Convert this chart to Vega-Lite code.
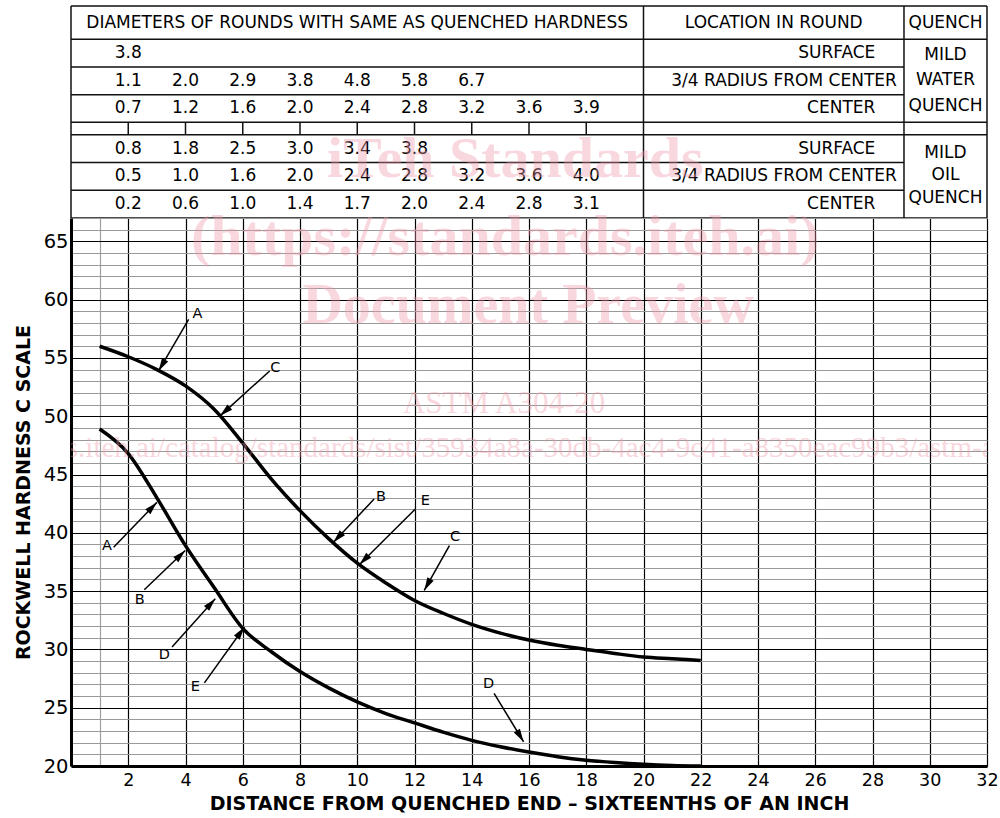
{
  "$schema": "https://vega.github.io/schema/vega-lite/v6.json",
  "background": "white",
  "padding": {"left": 14, "top": 5, "right": 2, "bottom": 2},
  "spacing": 0,
  "bounds": "flush",
  "config": {"view": {"stroke": null}, "font": "DejaVu Sans", "concat": {"spacing": 0}},
  "datasets": {
    "table_lines": [
      {"x": 0, "y": -0.5, "x2": 32, "y2": -0.5},
      {"x": 0, "y": 0.5, "x2": 32, "y2": 0.5},
      {"x": 0, "y": 1.5, "x2": 29.1, "y2": 1.5},
      {"x": 0, "y": 2.5, "x2": 29.1, "y2": 2.5},
      {"x": 0, "y": 3.5, "x2": 32, "y2": 3.5},
      {"x": 0, "y": 4.5, "x2": 32, "y2": 4.5},
      {"x": 0, "y": 5.5, "x2": 29.1, "y2": 5.5},
      {"x": 0, "y": 6.5, "x2": 29.1, "y2": 6.5},
      {"x": 0, "y": 7.5, "x2": 32, "y2": 7.5},
      {"x": 0, "y": -0.5, "x2": 0, "y2": 7.5},
      {"x": 20, "y": -0.5, "x2": 20, "y2": 7.5},
      {"x": 29.1, "y": -0.5, "x2": 29.1, "y2": 7.5},
      {"x": 32, "y": -0.5, "x2": 32, "y2": 7.5},
      {"x": 2, "y": 3.5, "x2": 2, "y2": 4.5},
      {"x": 4, "y": 3.5, "x2": 4, "y2": 4.5},
      {"x": 6, "y": 3.5, "x2": 6, "y2": 4.5},
      {"x": 8, "y": 3.5, "x2": 8, "y2": 4.5},
      {"x": 10, "y": 3.5, "x2": 10, "y2": 4.5},
      {"x": 12, "y": 3.5, "x2": 12, "y2": 4.5},
      {"x": 14, "y": 3.5, "x2": 14, "y2": 4.5},
      {"x": 16, "y": 3.5, "x2": 16, "y2": 4.5},
      {"x": 18, "y": 3.5, "x2": 18, "y2": 4.5}
    ],
    "diameters": [
      {"quench": "Mild water", "location": "Surface", "row": 1, "distance": 2, "diameter": "3.8"},
      {"quench": "Mild water", "location": "3/4 radius", "row": 2, "distance": 2, "diameter": "1.1"},
      {"quench": "Mild water", "location": "3/4 radius", "row": 2, "distance": 4, "diameter": "2.0"},
      {"quench": "Mild water", "location": "3/4 radius", "row": 2, "distance": 6, "diameter": "2.9"},
      {"quench": "Mild water", "location": "3/4 radius", "row": 2, "distance": 8, "diameter": "3.8"},
      {"quench": "Mild water", "location": "3/4 radius", "row": 2, "distance": 10, "diameter": "4.8"},
      {"quench": "Mild water", "location": "3/4 radius", "row": 2, "distance": 12, "diameter": "5.8"},
      {"quench": "Mild water", "location": "3/4 radius", "row": 2, "distance": 14, "diameter": "6.7"},
      {"quench": "Mild water", "location": "Center", "row": 3, "distance": 2, "diameter": "0.7"},
      {"quench": "Mild water", "location": "Center", "row": 3, "distance": 4, "diameter": "1.2"},
      {"quench": "Mild water", "location": "Center", "row": 3, "distance": 6, "diameter": "1.6"},
      {"quench": "Mild water", "location": "Center", "row": 3, "distance": 8, "diameter": "2.0"},
      {"quench": "Mild water", "location": "Center", "row": 3, "distance": 10, "diameter": "2.4"},
      {"quench": "Mild water", "location": "Center", "row": 3, "distance": 12, "diameter": "2.8"},
      {"quench": "Mild water", "location": "Center", "row": 3, "distance": 14, "diameter": "3.2"},
      {"quench": "Mild water", "location": "Center", "row": 3, "distance": 16, "diameter": "3.6"},
      {"quench": "Mild water", "location": "Center", "row": 3, "distance": 18, "diameter": "3.9"},
      {"quench": "Mild oil", "location": "Surface", "row": 5, "distance": 2, "diameter": "0.8"},
      {"quench": "Mild oil", "location": "Surface", "row": 5, "distance": 4, "diameter": "1.8"},
      {"quench": "Mild oil", "location": "Surface", "row": 5, "distance": 6, "diameter": "2.5"},
      {"quench": "Mild oil", "location": "Surface", "row": 5, "distance": 8, "diameter": "3.0"},
      {"quench": "Mild oil", "location": "Surface", "row": 5, "distance": 10, "diameter": "3.4"},
      {"quench": "Mild oil", "location": "Surface", "row": 5, "distance": 12, "diameter": "3.8"},
      {"quench": "Mild oil", "location": "3/4 radius", "row": 6, "distance": 2, "diameter": "0.5"},
      {"quench": "Mild oil", "location": "3/4 radius", "row": 6, "distance": 4, "diameter": "1.0"},
      {"quench": "Mild oil", "location": "3/4 radius", "row": 6, "distance": 6, "diameter": "1.6"},
      {"quench": "Mild oil", "location": "3/4 radius", "row": 6, "distance": 8, "diameter": "2.0"},
      {"quench": "Mild oil", "location": "3/4 radius", "row": 6, "distance": 10, "diameter": "2.4"},
      {"quench": "Mild oil", "location": "3/4 radius", "row": 6, "distance": 12, "diameter": "2.8"},
      {"quench": "Mild oil", "location": "3/4 radius", "row": 6, "distance": 14, "diameter": "3.2"},
      {"quench": "Mild oil", "location": "3/4 radius", "row": 6, "distance": 16, "diameter": "3.6"},
      {"quench": "Mild oil", "location": "3/4 radius", "row": 6, "distance": 18, "diameter": "4.0"},
      {"quench": "Mild oil", "location": "Center", "row": 7, "distance": 2, "diameter": "0.2"},
      {"quench": "Mild oil", "location": "Center", "row": 7, "distance": 4, "diameter": "0.6"},
      {"quench": "Mild oil", "location": "Center", "row": 7, "distance": 6, "diameter": "1.0"},
      {"quench": "Mild oil", "location": "Center", "row": 7, "distance": 8, "diameter": "1.4"},
      {"quench": "Mild oil", "location": "Center", "row": 7, "distance": 10, "diameter": "1.7"},
      {"quench": "Mild oil", "location": "Center", "row": 7, "distance": 12, "diameter": "2.0"},
      {"quench": "Mild oil", "location": "Center", "row": 7, "distance": 14, "diameter": "2.4"},
      {"quench": "Mild oil", "location": "Center", "row": 7, "distance": 16, "diameter": "2.8"},
      {"quench": "Mild oil", "location": "Center", "row": 7, "distance": 18, "diameter": "3.1"}
    ],
    "locations": [
      {"location": "SURFACE", "row": 1},
      {"location": "3/4 RADIUS FROM CENTER", "row": 2},
      {"location": "CENTER", "row": 3},
      {"location": "SURFACE", "row": 5},
      {"location": "3/4 RADIUS FROM CENTER", "row": 6},
      {"location": "CENTER", "row": 7}
    ],
    "headers": [
      {"header": "DIAMETERS OF ROUNDS WITH SAME AS QUENCHED HARDNESS"},
      {"header": "LOCATION IN ROUND"},
      {"header": "QUENCH"}
    ],
    "curves": [
      {"curve": "upper", "distance": 1, "hardness": 56.0},
      {"curve": "upper", "distance": 2, "hardness": 55.1},
      {"curve": "upper", "distance": 3, "hardness": 54.0},
      {"curve": "upper", "distance": 4, "hardness": 52.6},
      {"curve": "upper", "distance": 5, "hardness": 50.6},
      {"curve": "upper", "distance": 6, "hardness": 47.7},
      {"curve": "upper", "distance": 7, "hardness": 44.6},
      {"curve": "upper", "distance": 8, "hardness": 41.9},
      {"curve": "upper", "distance": 9, "hardness": 39.5},
      {"curve": "upper", "distance": 10, "hardness": 37.4},
      {"curve": "upper", "distance": 11, "hardness": 35.7},
      {"curve": "upper", "distance": 12, "hardness": 34.2},
      {"curve": "upper", "distance": 13, "hardness": 33.1},
      {"curve": "upper", "distance": 14, "hardness": 32.15},
      {"curve": "upper", "distance": 15, "hardness": 31.4},
      {"curve": "upper", "distance": 16, "hardness": 30.8},
      {"curve": "upper", "distance": 17, "hardness": 30.35},
      {"curve": "upper", "distance": 18, "hardness": 30.0},
      {"curve": "upper", "distance": 19, "hardness": 29.65},
      {"curve": "upper", "distance": 20, "hardness": 29.35},
      {"curve": "upper", "distance": 21, "hardness": 29.2},
      {"curve": "upper", "distance": 22, "hardness": 29.05},
      {"curve": "lower", "distance": 1, "hardness": 48.9},
      {"curve": "lower", "distance": 2, "hardness": 46.8},
      {"curve": "lower", "distance": 3, "hardness": 43.0},
      {"curve": "lower", "distance": 4, "hardness": 38.9},
      {"curve": "lower", "distance": 5, "hardness": 35.3},
      {"curve": "lower", "distance": 6, "hardness": 31.8},
      {"curve": "lower", "distance": 7, "hardness": 29.8},
      {"curve": "lower", "distance": 8, "hardness": 28.1},
      {"curve": "lower", "distance": 9, "hardness": 26.7},
      {"curve": "lower", "distance": 10, "hardness": 25.5},
      {"curve": "lower", "distance": 11, "hardness": 24.5},
      {"curve": "lower", "distance": 12, "hardness": 23.7},
      {"curve": "lower", "distance": 13, "hardness": 22.9},
      {"curve": "lower", "distance": 14, "hardness": 22.2},
      {"curve": "lower", "distance": 15, "hardness": 21.65},
      {"curve": "lower", "distance": 16, "hardness": 21.2},
      {"curve": "lower", "distance": 17, "hardness": 20.8},
      {"curve": "lower", "distance": 18, "hardness": 20.5},
      {"curve": "lower", "distance": 19, "hardness": 20.3},
      {"curve": "lower", "distance": 20, "hardness": 20.15},
      {"curve": "lower", "distance": 21, "hardness": 20.05},
      {"curve": "lower", "distance": 22, "hardness": 20.0}
    ],
    "arrows": [
      {"label": "A", "tail_x": 4.11, "tail_y": 58.3, "tip_x": 3.06, "tip_y": 53.88, "label_x": 4.42, "label_y": 58.73, "angle": 210},
      {"label": "C", "tail_x": 6.94, "tail_y": 53.88, "tip_x": 5.21, "tip_y": 50.03, "label_x": 7.14, "label_y": 54.13, "angle": 228},
      {"label": "B", "tail_x": 10.59, "tail_y": 42.9, "tip_x": 9.17, "tip_y": 39.19, "label_x": 10.83, "label_y": 43.04, "angle": 223},
      {"label": "E", "tail_x": 12.03, "tail_y": 42.04, "tip_x": 10.08, "tip_y": 37.28, "label_x": 12.38, "label_y": 42.69, "angle": 225},
      {"label": "C", "tail_x": 13.22, "tail_y": 38.91, "tip_x": 12.34, "tip_y": 35.06, "label_x": 13.42, "label_y": 39.62, "angle": 209},
      {"label": "A", "tail_x": 1.49, "tail_y": 38.76, "tip_x": 3.0, "tip_y": 42.61, "label_x": 1.26, "label_y": 38.9, "angle": 44},
      {"label": "B", "tail_x": 2.56, "tail_y": 35.12, "tip_x": 3.99, "tip_y": 38.48, "label_x": 2.4, "label_y": 34.26, "angle": 46},
      {"label": "D", "tail_x": 3.53, "tail_y": 30.21, "tip_x": 5.04, "tip_y": 34.35, "label_x": 3.26, "label_y": 29.5, "angle": 42},
      {"label": "E", "tail_x": 4.66, "tail_y": 27.13, "tip_x": 6.06, "tip_y": 31.92, "label_x": 4.34, "label_y": 26.78, "angle": 36},
      {"label": "D", "tail_x": 14.78, "tail_y": 26.22, "tip_x": 15.81, "tip_y": 22.08, "label_x": 14.59, "label_y": 27.07, "angle": 149}
    ],
    "watermark": [
      {"text": "watermark"}
    ]
  },
  "vconcat": [
    {
      "width": 916,
      "height": 212,
      "layer": [
        {
          "data": {"name": "table_lines"},
          "mark": {"type": "rule", "color": "#111", "strokeWidth": 1.5},
          "encoding": {
            "x": {"field": "x", "type": "quantitative", "scale": {"domain": [0, 32], "nice": false, "zero": false}, "axis": null},
            "x2": {"field": "x2"},
            "y": {"field": "y", "type": "quantitative", "scale": {"domain": [-0.5, 0.5, 3.5, 4.5, 7.5], "range": [0, 33.3, 116.3, 128.8, 212], "nice": false, "zero": false}, "axis": null},
            "y2": {"field": "y2"}
          }
        },
        {
          "data": {"name": "diameters"},
          "mark": {"type": "text", "font": "DejaVu Sans", "fontSize": 17, "color": "#000", "align": "center", "baseline": "middle"},
          "encoding": {
            "x": {"field": "distance", "type": "quantitative", "scale": {"domain": [0, 32], "nice": false, "zero": false}, "axis": null},
            "y": {"field": "row", "type": "quantitative", "scale": {"domain": [-0.5, 0.5, 3.5, 4.5, 7.5], "range": [0, 33.3, 116.3, 128.8, 212], "nice": false, "zero": false}, "axis": null},
            "text": {"field": "diameter"}
          }
        },
        {
          "data": {"name": "locations"},
          "transform": [{"filter": "datum.location !== '3/4 RADIUS FROM CENTER'"}],
          "mark": {"type": "text", "font": "DejaVu Sans", "fontSize": 17, "color": "#000", "align": "right", "baseline": "middle"},
          "encoding": {
            "x": {"datum": 28.1, "type": "quantitative", "scale": {"domain": [0, 32], "nice": false, "zero": false}, "axis": null},
            "y": {"field": "row", "type": "quantitative", "scale": {"domain": [-0.5, 0.5, 3.5, 4.5, 7.5], "range": [0, 33.3, 116.3, 128.8, 212], "nice": false, "zero": false}, "axis": null},
            "text": {"field": "location"}
          }
        },
        {
          "data": {"name": "locations"},
          "transform": [{"filter": "datum.location === '3/4 RADIUS FROM CENTER'"}],
          "mark": {"type": "text", "font": "DejaVu Sans", "fontSize": 17, "color": "#000", "align": "right", "baseline": "middle"},
          "encoding": {
            "x": {"datum": 28.85, "type": "quantitative", "scale": {"domain": [0, 32], "nice": false, "zero": false}, "axis": null},
            "y": {"field": "row", "type": "quantitative", "scale": {"domain": [-0.5, 0.5, 3.5, 4.5, 7.5], "range": [0, 33.3, 116.3, 128.8, 212], "nice": false, "zero": false}, "axis": null},
            "text": {"field": "location"}
          }
        },
        {
          "data": {"values": [{"quench": "MILD WATER QUENCH"}]},
          "mark": {"type": "text", "font": "DejaVu Sans", "fontSize": 17, "color": "#000", "align": "center", "baseline": "middle", "lineBreak": " ", "lineHeight": 25.5},
          "encoding": {
            "x": {"datum": 30.55, "type": "quantitative", "scale": {"domain": [0, 32], "nice": false, "zero": false}, "axis": null},
            "y": {"datum": 1.05, "type": "quantitative", "scale": {"domain": [-0.5, 0.5, 3.5, 4.5, 7.5], "range": [0, 33.3, 116.3, 128.8, 212], "nice": false, "zero": false}, "axis": null},
            "text": {"field": "quench"}
          }
        },
        {
          "data": {"values": [{"quench": "MILD OIL QUENCH"}]},
          "mark": {"type": "text", "font": "DejaVu Sans", "fontSize": 17, "color": "#000", "align": "center", "baseline": "middle", "lineBreak": " ", "lineHeight": 22.5},
          "encoding": {
            "x": {"datum": 30.55, "type": "quantitative", "scale": {"domain": [0, 32], "nice": false, "zero": false}, "axis": null},
            "y": {"datum": 5.15, "type": "quantitative", "scale": {"domain": [-0.5, 0.5, 3.5, 4.5, 7.5], "range": [0, 33.3, 116.3, 128.8, 212], "nice": false, "zero": false}, "axis": null},
            "text": {"field": "quench"}
          }
        },
        {
          "data": {"name": "headers"},
          "transform": [{"filter": "datum.header === 'DIAMETERS OF ROUNDS WITH SAME AS QUENCHED HARDNESS'"}],
          "mark": {"type": "text", "font": "DejaVu Sans", "fontSize": 17, "color": "#000", "align": "center", "baseline": "middle"},
          "encoding": {
            "x": {"datum": 10, "type": "quantitative", "scale": {"domain": [0, 32], "nice": false, "zero": false}, "axis": null},
            "y": {"datum": 0, "type": "quantitative", "scale": {"domain": [-0.5, 0.5, 3.5, 4.5, 7.5], "range": [0, 33.3, 116.3, 128.8, 212], "nice": false, "zero": false}, "axis": null},
            "text": {"field": "header"}
          }
        },
        {
          "data": {"name": "headers"},
          "transform": [{"filter": "datum.header === 'LOCATION IN ROUND'"}],
          "mark": {"type": "text", "font": "DejaVu Sans", "fontSize": 17, "color": "#000", "align": "center", "baseline": "middle"},
          "encoding": {
            "x": {"datum": 24.55, "type": "quantitative", "scale": {"domain": [0, 32], "nice": false, "zero": false}, "axis": null},
            "y": {"datum": 0, "type": "quantitative", "scale": {"domain": [-0.5, 0.5, 3.5, 4.5, 7.5], "range": [0, 33.3, 116.3, 128.8, 212], "nice": false, "zero": false}, "axis": null},
            "text": {"field": "header"}
          }
        },
        {
          "data": {"name": "headers"},
          "transform": [{"filter": "datum.header === 'QUENCH'"}],
          "mark": {"type": "text", "font": "DejaVu Sans", "fontSize": 17, "color": "#000", "align": "center", "baseline": "middle"},
          "encoding": {
            "x": {"datum": 30.55, "type": "quantitative", "scale": {"domain": [0, 32], "nice": false, "zero": false}, "axis": null},
            "y": {"datum": 0, "type": "quantitative", "scale": {"domain": [-0.5, 0.5, 3.5, 4.5, 7.5], "range": [0, 33.3, 116.3, 128.8, 212], "nice": false, "zero": false}, "axis": null},
            "text": {"field": "header"}
          }
        },
        {
          "data": {"name": "watermark"},
          "mark": {"type": "text", "text": "iTeh Standards", "font": "Liberation Serif", "fontWeight": "bold", "fontSize": 58, "color": "#ee9aab", "opacity": 0.38, "align": "center", "baseline": "middle"},
          "encoding": {
            "x": {"datum": 15.52, "type": "quantitative", "scale": {"domain": [0, 32], "nice": false, "zero": false}, "axis": null},
            "y": {"datum": 5.41, "type": "quantitative", "scale": {"domain": [-0.5, 0.5, 3.5, 4.5, 7.5], "range": [0, 33.3, 116.3, 128.8, 212], "nice": false, "zero": false}, "axis": null}
          }
        }
      ]
    },
    {
      "width": 916,
      "height": 548,
      "layer": [
        {
          "data": {"name": "curves"},
          "mark": {"type": "line", "interpolate": "monotone", "color": "#000", "strokeWidth": 3.5},
          "encoding": {
            "x": {
              "field": "distance", "type": "quantitative",
              "scale": {"domain": [0, 32], "nice": false, "zero": false},
              "axis": {
                "values": [1, 2, 4, 6, 8, 10, 12, 14, 16, 18, 20, 22, 24, 26, 28, 30, 32],
                "tickCount": 100,
                "format": "d",
                "labelExpr": "datum.value % 2 === 0 ? datum.label : ''",
                "grid": true,
                "gridColor": {"condition": {"test": "datum.value === 1", "value": "#a0a0a0"}, "value": "#000"},
                "gridWidth": 1.2,
                "domainColor": "#000", "domainWidth": 3,
                "ticks": false, "tickSize": 0,
                "labelFont": "DejaVu Sans", "labelFontSize": 17.5, "labelColor": "#000", "labelPadding": 5,
                "labelOverlap": false, "labelFlush": false, "labelBound": false,
                "title": "DISTANCE FROM QUENCHED END – SIXTEENTHS OF AN INCH",
                "titleFont": "DejaVu Sans", "titleFontWeight": "bold", "titleFontSize": 19, "titleColor": "#000", "titlePadding": 6
              }
            },
            "y": {
              "field": "hardness", "type": "quantitative",
              "scale": {"domain": [20, 67], "nice": false, "zero": false},
              "axis": {
                "values": [20, 21, 22, 23, 24, 25, 26, 27, 28, 29, 30, 31, 32, 33, 34, 35, 36, 37, 38, 39, 40, 41, 42, 43, 44, 45, 46, 47, 48, 49, 50, 51, 52, 53, 54, 55, 56, 57, 58, 59, 60, 61, 62, 63, 64, 65, 66, 67],
                "tickCount": 100,
                "format": "d",
                "labelExpr": "datum.value % 5 === 0 ? datum.label : ''",
                "grid": true,
                "gridColor": {"condition": {"test": "datum.value % 5 === 0", "value": "#000"}, "value": "#999"},
                "gridWidth": 1.2,
                "domainColor": "#000", "domainWidth": 3,
                "ticks": false, "tickSize": 0,
                "labelFont": "DejaVu Sans", "labelFontSize": 19.5, "labelColor": "#000", "labelPadding": 3,
                "labelOverlap": false, "labelFlush": false, "labelBound": false,
                "title": "ROCKWELL HARDNESS C SCALE",
                "titleFont": "DejaVu Sans", "titleFontWeight": "bold", "titleFontSize": 19, "titleColor": "#000", "titlePadding": 10
              }
            },
            "detail": {"field": "curve"}
          }
        },
        {
          "data": {"name": "arrows"},
          "mark": {"type": "rule", "color": "#000", "strokeWidth": 1.5},
          "encoding": {
            "x": {"field": "tail_x", "type": "quantitative", "scale": {"domain": [0, 32], "nice": false, "zero": false}},
            "y": {"field": "tail_y", "type": "quantitative", "scale": {"domain": [20, 67], "nice": false, "zero": false}},
            "x2": {"field": "tip_x"},
            "y2": {"field": "tip_y"}
          }
        },
        {
          "data": {"name": "arrows"},
          "mark": {"type": "point", "shape": "M0,0L0.55,2L-0.55,2Z", "filled": true, "size": 169, "color": "#000", "opacity": 1, "strokeWidth": 0},
          "encoding": {
            "x": {"field": "tip_x", "type": "quantitative", "scale": {"domain": [0, 32], "nice": false, "zero": false}},
            "y": {"field": "tip_y", "type": "quantitative", "scale": {"domain": [20, 67], "nice": false, "zero": false}},
            "angle": {"field": "angle", "type": "quantitative", "scale": null}
          }
        },
        {
          "data": {"name": "arrows"},
          "mark": {"type": "text", "font": "DejaVu Sans", "fontSize": 14.5, "color": "#000", "align": "center", "baseline": "middle"},
          "encoding": {
            "x": {"field": "label_x", "type": "quantitative", "scale": {"domain": [0, 32], "nice": false, "zero": false}},
            "y": {"field": "label_y", "type": "quantitative", "scale": {"domain": [20, 67], "nice": false, "zero": false}},
            "text": {"field": "label"}
          }
        },
        {
          "data": {"name": "watermark"},
          "mark": {"type": "text", "text": "(https://standards.iteh.ai)", "font": "Liberation Serif", "fontWeight": "bold", "fontSize": 58, "color": "#ee9aab", "opacity": 0.38, "align": "center", "baseline": "middle"},
          "encoding": {
            "x": {"datum": 15.17, "type": "quantitative", "scale": {"domain": [0, 32], "nice": false, "zero": false}},
            "y": {"datum": 65.25, "type": "quantitative", "scale": {"domain": [20, 67], "nice": false, "zero": false}}
          }
        },
        {
          "data": {"name": "watermark"},
          "mark": {"type": "text", "text": "Document Preview", "font": "Liberation Serif", "fontWeight": "bold", "fontSize": 56, "color": "#ee9aab", "opacity": 0.38, "align": "center", "baseline": "middle"},
          "encoding": {
            "x": {"datum": 15.97, "type": "quantitative", "scale": {"domain": [0, 32], "nice": false, "zero": false}},
            "y": {"datum": 59.44, "type": "quantitative", "scale": {"domain": [20, 67], "nice": false, "zero": false}}
          }
        },
        {
          "data": {"name": "watermark"},
          "mark": {"type": "text", "text": "ASTM A304-20", "font": "Liberation Serif", "fontSize": 31, "color": "#ee9aab", "opacity": 0.38, "align": "center", "baseline": "middle"},
          "encoding": {
            "x": {"datum": 15.13, "type": "quantitative", "scale": {"domain": [0, 32], "nice": false, "zero": false}},
            "y": {"datum": 51.05, "type": "quantitative", "scale": {"domain": [20, 67], "nice": false, "zero": false}}
          }
        },
        {
          "data": {"name": "watermark"},
          "mark": {"type": "text", "text": "https://standards.iteh.ai/catalog/standards/sist/35934a8a-30db-4ac4-9c41-a8350eac99b3/astm-a304-20", "font": "Liberation Serif", "fontSize": 29, "color": "#ee9aab", "opacity": 0.38, "align": "center", "baseline": "middle", "clip": true},
          "encoding": {
            "x": {"datum": 14.37, "type": "quantitative", "scale": {"domain": [0, 32], "nice": false, "zero": false}},
            "y": {"datum": 47.29, "type": "quantitative", "scale": {"domain": [20, 67], "nice": false, "zero": false}}
          }
        }
      ]
    }
  ]
}
